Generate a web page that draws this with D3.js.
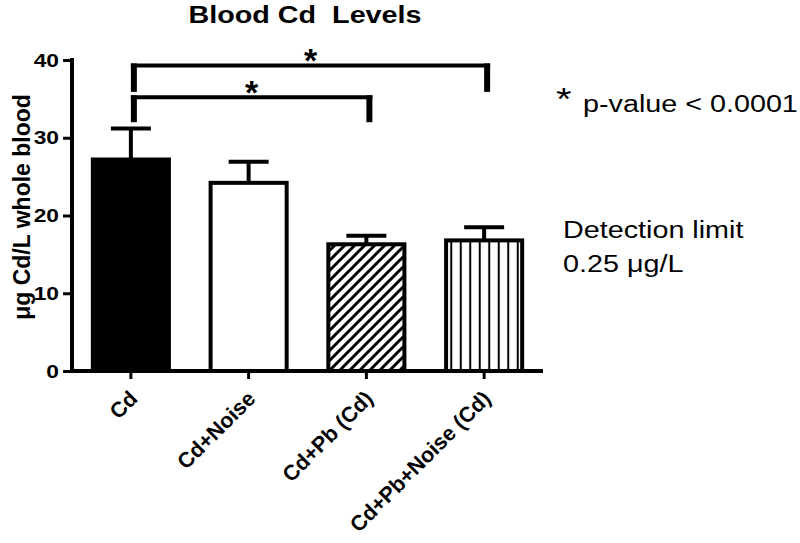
<!DOCTYPE html>
<html>
<head>
<meta charset="utf-8">
<script src="https://cdn.jsdelivr.net/npm/d3@7"></script>
<style>
  body { margin: 0; background: #fff; }
  svg { font-family: Arial, "Liberation Sans", sans-serif; }
</style>
</head>
<body>
<div id="chart"></div>
<script>
// data
const groups = ["Cd", "Cd+Noise", "Cd+Pb (Cd)", "Cd+Pb+Noise (Cd)"];
const means = [27.2, 24.2, 16.3, 16.8];
const errors = [4.0, 2.7, 1.1, 1.7];
const fills = ["solid", "open", "diagonal", "vertical"];
const yTicks = [0, 10, 20, 30, 40];
// significance brackets: from group, to group, bar level, leg end
const brFrom = [0, 0];
const brTo = [3, 2];
const brLevel = [39.3, 35.2];
const brLeg = [35.9, 32.0];

const width = 800, height = 543;
const sx = 1.25; // picture is stretched sideways

const svg = d3.select("#chart").append("svg")
    .attr("width", width).attr("height", height);

const defs = svg.append("defs");
const diag = defs.append("pattern").attr("id", "diag")
    .attr("patternUnits", "userSpaceOnUse").attr("width", 10).attr("height", 10);
diag.append("rect").attr("width", 10).attr("height", 10).attr("fill", "#fff");
diag.append("path").attr("d", "M-2,2 l4,-4 M0,10 l10,-10 M8,12 l4,-4")
    .attr("stroke", "#000").attr("stroke-width", 3);
const vert = defs.append("pattern").attr("id", "vert")
    .attr("patternUnits", "userSpaceOnUse").attr("width", 9.5).attr("height", 10);
vert.append("rect").attr("width", 9.5).attr("height", 10).attr("fill", "#fff");
vert.append("line").attr("x1", 4.75).attr("x2", 4.75).attr("y1", 0).attr("y2", 10)
    .attr("stroke", "#000").attr("stroke-width", 2);

const fillOf = {solid: "#000", open: "#fff", diagonal: "url(#diag)", vertical: "url(#vert)"};

const x = d3.scaleBand().domain(d3.range(groups.length))
    .range([72, 543]).paddingInner(0.32).paddingOuter(0.16);
const y = d3.scaleLinear().domain([0, 40]).range([371, 60]);
const cx = i => x(i) + x.bandwidth() / 2;

// title
svg.append("text")
    .attr("transform", `translate(305,23) scale(${sx},1)`)
    .attr("text-anchor", "middle").style("white-space", "pre")
    .attr("font-size", 23).attr("font-weight", "bold")
    .text("Blood Cd  Levels");

// y axis label
svg.append("text")
    .attr("transform", "translate(30,207) rotate(-90)")
    .attr("text-anchor", "middle")
    .attr("font-size", 23).attr("font-weight", "bold")
    .text("\u03bcg Cd/L whole blood");

// bars
const bars = svg.append("g");
bars.selectAll("rect").data(means).join("rect")
    .attr("x", (d, i) => x(i) + 2)
    .attr("width", x.bandwidth() - 4)
    .attr("y", d => y(d))
    .attr("height", d => y(0) - y(d))
    .attr("fill", (d, i) => fillOf[fills[i]])
    .attr("stroke", "#000").attr("stroke-width", 4);

// error bars (upper only)
const err = svg.append("g").attr("stroke", "#000").attr("stroke-width", 4);
err.selectAll("line.v").data(means).join("line").attr("class", "v")
    .attr("x1", (d, i) => cx(i)).attr("x2", (d, i) => cx(i))
    .attr("y1", d => y(d)).attr("y2", (d, i) => y(d + errors[i]));
err.selectAll("line.c").data(means).join("line").attr("class", "c")
    .attr("x1", (d, i) => cx(i) - 20).attr("x2", (d, i) => cx(i) + 20)
    .attr("y1", (d, i) => y(d + errors[i])).attr("y2", (d, i) => y(d + errors[i]));

// axes
const yAxis = svg.append("g").attr("transform", "translate(72,0)")
    .call(d3.axisLeft(y).tickValues(yTicks).tickSize(9).tickPadding(4).tickSizeOuter(0));
yAxis.select(".domain").attr("stroke-width", 4).attr("d", `M0,${y(40) - 2}V${y(0) + 2}`);
yAxis.selectAll(".tick line").attr("stroke-width", 3);
yAxis.selectAll(".tick text")
    .attr("font-size", 19).attr("font-weight", "bold").attr("font-family", "Arial, sans-serif")
    .attr("fill", "#000")
    .attr("x", -13 / 1.2).attr("transform", "scale(1.2,1)");

const xAxis = svg.append("g").attr("transform", `translate(0,${y(0)})`)
    .call(d3.axisBottom(x).tickFormat(i => groups[i]).tickSize(8).tickSizeOuter(0));
xAxis.select(".domain").attr("stroke-width", 4).attr("d", "M70,0H543");
xAxis.selectAll(".tick line").attr("stroke-width", 3);
xAxis.selectAll(".tick text")
    .attr("font-size", 21.5).attr("font-weight", "bold").attr("font-family", "Arial, sans-serif")
    .attr("fill", "#000")
    .attr("text-anchor", "end")
    .attr("x", 0).attr("y", 0).attr("dy", 0)
    .attr("transform", "translate(8,29) rotate(-45)");

// significance brackets
const br = svg.append("g").attr("stroke", "#000").attr("fill", "none");
brFrom.forEach((f, k) => {
  const x1 = cx(f) + 3, x2 = cx(brTo[k]) + 3;
  br.append("line").attr("x1", x1 - 3).attr("x2", x2 + 3)
      .attr("y1", y(brLevel[k])).attr("y2", y(brLevel[k])).attr("stroke-width", 4);
  [x1, x2].forEach(xx => br.append("line").attr("x1", xx).attr("x2", xx)
      .attr("y1", y(brLevel[k]) - 2).attr("y2", y(brLeg[k])).attr("stroke-width", 6));
  svg.append("text").attr("x", (x1 + x2) / 2).attr("y", y(brLevel[k]) + 7)
      .attr("text-anchor", "middle").attr("font-size", 34).attr("font-weight", "bold")
      .text("*");
});

// annotations on the right
const note = (tx, ty, txt, fs) => svg.append("text")
    .attr("transform", `translate(${tx},${ty}) scale(${sx},1)`)
    .attr("font-size", fs).text(txt);
note(556, 110, "*", 32);
note(583, 112, "p-value < 0.0001", 23);
note(563, 238, "Detection limit", 23);
note(563, 272, "0.25 \u03bcg/L", 23);
</script>
</body>
</html>
